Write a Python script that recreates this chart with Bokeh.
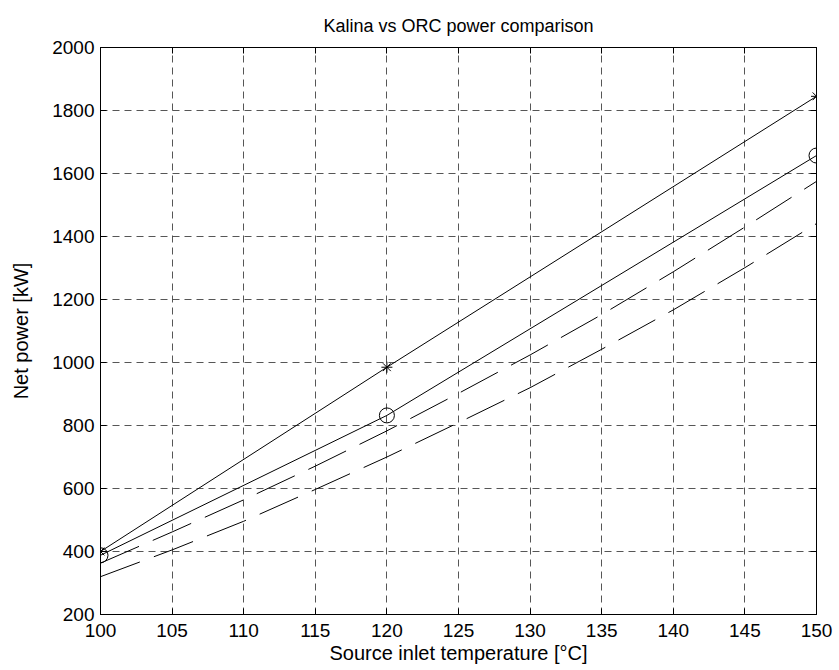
from bokeh.plotting import figure
from bokeh.models import Range1d, LinearAxis, FixedTicker
from bokeh.embed import file_html
from bokeh.resources import INLINE

# ---- data ----
temps_all = [100, 105, 110, 115, 120, 125, 130, 135, 140, 145, 150]
temps_key = [100, 120, 150]
kalina_star = [400, 985, 1845]
kalina_circle = [388, 832, 1657]
orc_upper = [363, 462, 564, 671, 783, 902, 1024, 1152, 1288, 1430, 1575]
orc_lower = [320, 405, 496, 597, 700, 809, 920, 1042, 1167, 1301, 1441]
x_ticks = [100, 105, 110, 115, 120, 125, 130, 135, 140, 145, 150]
y_ticks = [200, 400, 600, 800, 1000, 1200, 1400, 1600, 1800, 2000]

title_text = "Kalina vs ORC power comparison"
x_label = "Source inlet temperature [°C]"
y_label = "Net power [kW]"

FONT = "Liberation Sans"

p = figure(width=839, height=670,
           x_range=Range1d(100, 150), y_range=Range1d(200, 2000),
           output_backend="svg", toolbar_location=None,
           title=title_text,
           min_border_left=100, min_border_right=23,
           min_border_top=47, min_border_bottom=56)

p.background_fill_color = "white"
p.border_fill_color = "white"
p.outline_line_color = "black"
p.outline_line_width = 1

p.title.align = "center"
p.title.text_font = FONT
p.title.text_font_size = "18px"
p.title.text_font_style = "normal"
p.title.text_color = "black"
p.title.standoff = 23

for ax in (p.xaxis[0], p.yaxis[0]):
    ax.axis_line_color = "black"
    ax.major_tick_in = 6
    ax.major_tick_out = 0
    ax.minor_tick_line_color = None
    ax.major_tick_line_color = "black"
    ax.major_label_text_font = FONT
    ax.major_label_text_font_size = "19px"
    ax.major_label_text_color = "black"
    ax.axis_label_text_font = FONT
    ax.axis_label_text_font_size = "20px"
    ax.axis_label_text_font_style = "normal"
    ax.axis_label_text_color = "black"

p.xaxis[0].ticker = FixedTicker(ticks=x_ticks)
p.yaxis[0].ticker = FixedTicker(ticks=y_ticks)
p.xaxis[0].axis_label = x_label
p.yaxis[0].axis_label = y_label
p.xaxis[0].major_label_standoff = 9
p.xaxis[0].axis_label_standoff = 2
p.yaxis[0].major_label_standoff = 6
p.yaxis[0].axis_label_standoff = 17

for loc, ticks in (("above", x_ticks), ("right", y_ticks)):
    a = LinearAxis(ticker=FixedTicker(ticks=ticks))
    a.major_label_text_font_size = "1px"
    a.major_label_text_color = None
    a.major_label_standoff = 0
    a.major_tick_in = 6
    a.major_tick_out = 0
    a.minor_tick_line_color = None
    a.axis_line_color = "black"
    p.add_layout(a, loc)

for g in (p.xgrid[0], p.ygrid[0]):
    g.grid_line_color = "#444444"
    g.grid_line_dash = "7 5"
    g.grid_line_width = 1
    g.grid_line_alpha = 0.9

# ORC dashed curves
p.line(temps_all, orc_upper, line_color="black", line_width=1, line_dash="42 15")
p.line(temps_all, orc_lower, line_color="black", line_width=1, line_dash="42 15")

# Kalina solid lines with markers
p.line(temps_key, kalina_star, line_color="black", line_width=1)
p.scatter(temps_key, kalina_star, marker="asterisk", size=11,
          line_color="black", line_width=1)
p.line(temps_key, kalina_circle, line_color="black", line_width=1)
p.scatter(temps_key, kalina_circle, marker="circle", size=15,
          line_color="black", fill_color=None, line_width=1)

open("out.html", "w").write(file_html(p, INLINE))
